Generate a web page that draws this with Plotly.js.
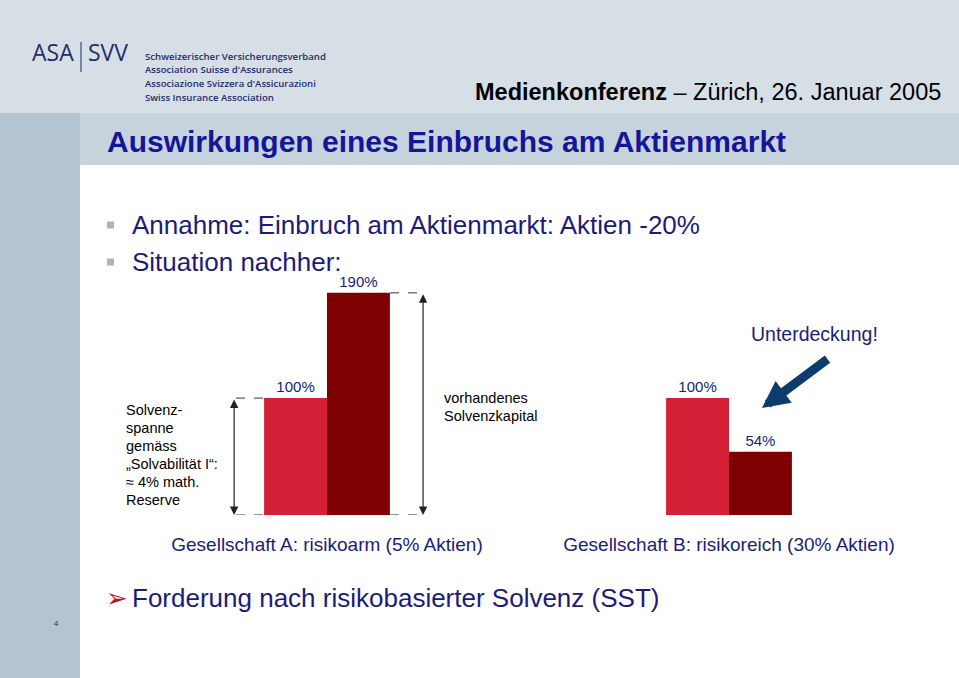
<!DOCTYPE html>
<html>
<head>
<meta charset="utf-8">
<script src="https://cdn.plot.ly/plotly-3.0.1.min.js"></script>
<style>html,body{margin:0;padding:0;background:#fff;}#chart{width:959px;height:678px;}</style>
</head>
<body>
<div id="chart"></div>
<script>
// ---- data ----
const categories = ['Gesellschaft A: risikoarm (5% Aktien)', 'Gesellschaft B: risikoreich (30% Aktien)'];
const solvenzspanne = [100, 100];          // required solvency margin (Solvabilität I)
const solvenzkapital = [190, 54];          // available solvency capital after the crash
const bullets = ['Annahme: Einbruch am Aktienmarkt: Aktien -20%', 'Situation nachher:'];
const leftNote = ['Solvenz-', 'spanne', 'gemäss', '„Solvabilität I“:', '≈ 4% math.', 'Reserve'];
const rightNote = ['vorhandenes', 'Solvenzkapital'];
const logoLines = ['Schweizerischer Versicherungsverband', 'Association Suisse d\'Assurances', 'Associazione Svizzera d\'Assicurazioni', 'Swiss Insurance Association'];

// ---- helpers (pixel -> paper) ----
const W = 959, H = 678;
const P = x => x / W;
const Q = y => 1 - y / H;
const FONT = 'Arial, "Liberation Sans", sans-serif';
const NAVY = '#1c1c78';

const traces = [
  {type: 'bar', name: 'Solvenzspanne', x: categories, y: solvenzspanne,
   marker: {color: '#d42037'}, texttemplate: '%{y}%', textposition: 'outside',
   textfont: {family: FONT, size: 15, color: NAVY}, cliponaxis: false, hoverinfo: 'skip'},
  {type: 'bar', name: 'vorhandenes Solvenzkapital', x: categories, y: solvenzkapital,
   marker: {color: '#7f0000'}, texttemplate: '%{y}%', textposition: 'outside',
   textfont: {family: FONT, size: 15, color: NAVY}, cliponaxis: false, hoverinfo: 'skip'}
];

const shapes = [
  {type: 'rect', xref: 'paper', yref: 'paper', x0: 0, x1: 1, y0: Q(113), y1: 1, fillcolor: '#d6dfe6', line: {width: 0}, layer: 'below'},
  {type: 'rect', xref: 'paper', yref: 'paper', x0: P(80), x1: 1, y0: Q(165), y1: Q(113), fillcolor: '#c7d3dc', line: {width: 0}, layer: 'below'},
  {type: 'rect', xref: 'paper', yref: 'paper', x0: 0, x1: P(80), y0: 0, y1: Q(113), fillcolor: '#b4c5d1', line: {width: 0}, layer: 'below'},
  {type: 'line', xref: 'paper', yref: 'paper', x0: P(81), x1: P(81), y0: Q(42), y1: Q(72), line: {color: '#1f2d6b', width: 1}},
  // dashed guides
  {type: 'line', xref: 'paper', yref: 'y', x0: P(236), x1: P(263), y0: solvenzspanne[0], y1: solvenzspanne[0], line: {color: '#333', width: 1, dash: 'dash'}},
  {type: 'line', xref: 'paper', yref: 'y', x0: P(236), x1: P(263), y0: 0, y1: 0, line: {color: '#333', width: 1, dash: 'dash'}},
  {type: 'line', xref: 'paper', yref: 'y', x0: P(390), x1: P(424), y0: solvenzkapital[0], y1: solvenzkapital[0], line: {color: '#333', width: 1, dash: 'dash'}},
  {type: 'line', xref: 'paper', yref: 'y', x0: P(390), x1: P(424), y0: 0, y1: 0, line: {color: '#333', width: 1, dash: 'dash'}}
];
bullets.forEach((b, i) => {
  const yc = 225 + i * 37;
  shapes.push({type: 'rect', xref: 'paper', yref: 'paper', x0: P(107), x1: P(114), y0: Q(yc + 3.5), y1: Q(yc - 3.5), fillcolor: '#a9b4bf', line: {width: 0}});
});

const ann = [];
const txt = (x, y, text, size, color, opts) => ann.push(Object.assign({
  xref: 'paper', yref: 'paper', x: P(x), y: Q(y), text: text, showarrow: false,
  xanchor: 'left', yanchor: 'middle', font: {family: FONT, size: size, color: color}
}, opts || {}));

// logo
txt(30, 52, 'ASA', 23, '#1f2d6b', {font: {family: '"Open Sans", sans-serif', size: 23, color: '#1f2d6b', weight: 500}});
txt(86, 52, 'SVV', 23, '#1f2d6b', {font: {family: '"Open Sans", sans-serif', size: 23, color: '#1f2d6b', weight: 500}});
logoLines.forEach((l, i) => txt(143, 56 + i * 13.7, l, 9.6, '#1f2d6b', {font: {family: '"Open Sans", sans-serif', size: 9.6, color: '#1f2d6b', weight: 600}}));
txt(943, 92, '<b>Medienkonferenz</b> – Zürich, 26. Januar 2005', 23.5, '#000', {xanchor: 'right'});
txt(105, 141, '<b>Auswirkungen eines Einbruchs am Aktienmarkt</b>', 30, '#15159a');
bullets.forEach((b, i) => txt(130, 225 + i * 37, b, 26, NAVY));
leftNote.forEach((l, i) => txt(124, 410 + i * 18, l, 14.5, '#000'));
rightNote.forEach((l, i) => txt(442, 398 + i * 18, l, 14.5, '#000'));
txt(749, 334, 'Unterdeckung!', 19.5, NAVY);
txt(104, 598, '➢', 26, '#c00000', {font: {family: '"DejaVu Sans", sans-serif', size: 26, color: '#c8101e'}});
txt(130, 598, 'Forderung nach risikobasierter Solvenz (SST)', 26, NAVY);
txt(56, 623, '4', 8, '#333', {xanchor: 'center'});

// double-headed measurement arrows (category-axis units: 402 px per category)
ann.push({xref: 'x', yref: 'y', axref: 'x', ayref: 'y', x: -0.231, y: 0, ax: -0.231, ay: solvenzspanne[0],
  text: '', showarrow: true, arrowside: 'end+start', arrowhead: 2, arrowsize: 1.4, arrowwidth: 1.2, arrowcolor: '#222', standoff: 0, startstandoff: 0, startarrowhead: 2, startarrowsize: 1.4});
ann.push({xref: 'x', yref: 'y', axref: 'x', ayref: 'y', x: 0.239, y: 0, ax: 0.239, ay: solvenzkapital[0],
  text: '', showarrow: true, arrowside: 'end+start', arrowhead: 2, arrowsize: 1.4, arrowwidth: 1.2, arrowcolor: '#222', standoff: 0, startstandoff: 0, startarrowhead: 2, startarrowsize: 1.4});
// big blue arrow
ann.push({xref: 'paper', yref: 'paper', x: P(762), y: Q(408), ax: 67, ay: -50, text: '', showarrow: true,
  arrowhead: 2, arrowsize: 0.6, arrowwidth: 9, arrowcolor: '#0c3c6c'});

const layout = {
  width: W, height: H, margin: {l: 0, r: 0, t: 0, b: 0},
  paper_bgcolor: '#ffffff', plot_bgcolor: 'rgba(0,0,0,0)',
  showlegend: false, barmode: 'group', bargap: 0.687, bargroupgap: 0,
  xaxis: {domain: [P(126), P(930)], type: 'category', range: [-0.5, 1.5], showgrid: false, zeroline: false,
          showline: false, ticks: '', ticklabelstandoff: 16, tickfont: {family: FONT, size: 19, color: NAVY}, fixedrange: true},
  yaxis: {domain: [Q(515), Q(280)], range: [0, 201], visible: false, fixedrange: true},
  shapes: shapes, annotations: ann
};
Plotly.newPlot('chart', traces, layout, {displayModeBar: false, staticPlot: true});
</script>
</body>
</html>
